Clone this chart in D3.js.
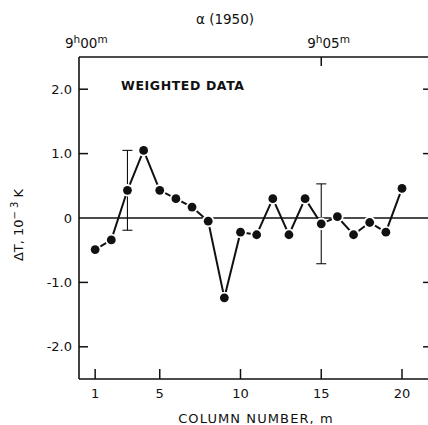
<!DOCTYPE html>
<html>
<head>
<meta charset="utf-8">
<script src="https://cdn.jsdelivr.net/npm/d3@7"></script>
<style>
  html, body { margin: 0; padding: 0; background: #fff; }
  svg { display: block; }
</style>
</head>
<body>
<svg id="chart"></svg>
<script>
// column number 1..20 and weighted delta T (10^-3 K)
const columns = [1, 2, 3, 4, 5, 6, 7, 8, 9, 10, 11, 12, 13, 14, 15, 16, 17, 18, 19, 20];
const deltaT = [-0.49, -0.34, 0.43, 1.05, 0.43, 0.30, 0.17, -0.05, -1.24, -0.22,
                -0.26, 0.30, -0.26, 0.30, -0.09, 0.02, -0.26, -0.07, -0.22, 0.46];
// error bars shown on two columns
const errCols = [3, 15];
const errHalf = [0.62, 0.62];
const xTicks = [1, 5, 10, 15, 20];
const yTicks = [-2, -1, 0, 1, 2];
const yTickLabels = ['-2.0', '-1.0', '0', '1.0', '2.0'];
// right ascension ticks on the top axis (column position, hours, minutes)
const raCols = [0, 15];
const raLabels = [['9', '00'], ['9', '05']];

const width = 428, height = 425;
const font = '"DejaVu Sans", "Liberation Sans", sans-serif';

const svg = d3.select('#chart')
  .attr('width', width)
  .attr('height', height)
  .style('font-family', font);

const x = d3.scaleLinear().domain([0, 21.8]).range([79, 79 + 21.8 * 16.15]);
const y = d3.scaleLinear().domain([-2.5, 2.5]).range([379, 57]);

const ink = '#111';

// frame: left, bottom, top, right (right one sits just past the edge)
const frame = svg.append('g').attr('stroke', ink).attr('stroke-width', 1.6).attr('fill', 'none');
frame.append('line').attr('x1', x(0)).attr('x2', x(0)).attr('y1', y(2.5)).attr('y2', y(-2.5));
frame.append('line').attr('x1', x(0)).attr('x2', x(21.8)).attr('y1', y(-2.5)).attr('y2', y(-2.5));
frame.append('line').attr('x1', x(0)).attr('x2', x(21.8)).attr('y1', y(2.5)).attr('y2', y(2.5));
frame.append('line').attr('x1', x(21.8)).attr('x2', x(21.8)).attr('y1', y(2.5)).attr('y2', y(-2.5));

// zero line across the plot
svg.append('line')
  .attr('x1', x(0)).attr('x2', x(21.8))
  .attr('y1', y(0)).attr('y2', y(0))
  .attr('stroke', ink).attr('stroke-width', 1.4);

// left ticks + labels
const yt = svg.append('g');
yt.selectAll('line.l').data(yTicks.filter(d => d !== 0)).enter().append('line')
  .attr('x1', x(0)).attr('x2', x(0) + 9)
  .attr('y1', d => y(d)).attr('y2', d => y(d))
  .attr('stroke', ink).attr('stroke-width', 1.5);
yt.selectAll('line.r').data(yTicks.filter(d => d !== 0)).enter().append('line')
  .attr('x1', x(21.8)).attr('x2', x(21.8) - 8)
  .attr('y1', d => y(d)).attr('y2', d => y(d))
  .attr('stroke', ink).attr('stroke-width', 1.5);
yt.selectAll('text').data(yTicks).enter().append('text')
  .attr('x', 72).attr('y', d => y(d))
  .attr('dy', '0.36em')
  .attr('text-anchor', 'end')
  .attr('font-size', 13)
  .attr('fill', ink)
  .text((d, i) => yTickLabels[i]);

// bottom ticks + labels
const xt = svg.append('g');
xt.selectAll('line').data(xTicks).enter().append('line')
  .attr('x1', d => x(d)).attr('x2', d => x(d))
  .attr('y1', y(-2.5)).attr('y2', y(-2.5) - 10)
  .attr('stroke', ink).attr('stroke-width', 1.5);
xt.selectAll('text').data(xTicks).enter().append('text')
  .attr('x', d => x(d)).attr('y', 398)
  .attr('text-anchor', 'middle')
  .attr('font-size', 13)
  .attr('fill', ink)
  .text(d => d);

// top RA ticks + labels
const tt = svg.append('g');
tt.selectAll('line').data(raCols.filter(d => d > 0)).enter().append('line')
  .attr('x1', d => x(d)).attr('x2', d => x(d))
  .attr('y1', y(2.5)).attr('y2', y(2.5) + 9)
  .attr('stroke', ink).attr('stroke-width', 1.5);
raCols.forEach((c, i) => {
  const t = tt.append('text')
    .attr('x', x(c) - 14).attr('y', 48)
    .attr('font-size', 13.5)
    .attr('fill', ink);
  t.append('tspan').text(raLabels[i][0]);
  t.append('tspan').attr('dy', -5).attr('font-size', 10.5).text('h');
  t.append('tspan').attr('dy', 5).text(raLabels[i][1]);
  t.append('tspan').attr('dy', -5).attr('font-size', 10.5).text('m');
});

svg.append('text')
  .attr('x', 225).attr('y', 24)
  .attr('text-anchor', 'middle')
  .attr('font-size', 13.5)
  .attr('fill', ink)
  .text('\u03B1 (1950)');

// axis titles
svg.append('text')
  .attr('x', 256).attr('y', 423)
  .attr('text-anchor', 'middle')
  .attr('font-size', 13)
  .attr('letter-spacing', 1.1)
  .attr('fill', ink)
  .text('COLUMN  NUMBER,  m');

const yl = svg.append('text')
  .attr('transform', 'translate(23,225) rotate(-90)')
  .attr('text-anchor', 'middle')
  .attr('font-size', 13)
  .attr('fill', ink);
yl.append('tspan').text('\u0394T, 10');
yl.append('tspan').attr('dy', -5).attr('font-size', 10).text('\u2212 3');
yl.append('tspan').attr('dy', 5).text(' K');

svg.append('text')
  .attr('x', 121).attr('y', 90)
  .attr('font-size', 12.5)
  .attr('font-weight', 'bold')
  .attr('letter-spacing', 0.6)
  .attr('fill', ink)
  .text('WEIGHTED  DATA');

// error bars
const eb = svg.append('g').attr('stroke', ink).attr('stroke-width', 1.1);
errCols.forEach((c, i) => {
  const v = deltaT[columns.indexOf(c)];
  const top = y(v + errHalf[i]), bot = y(v - errHalf[i]);
  eb.append('line').attr('x1', x(c)).attr('x2', x(c)).attr('y1', top).attr('y2', bot);
  eb.append('line').attr('x1', x(c) - 5).attr('x2', x(c) + 5).attr('y1', top).attr('y2', top);
  eb.append('line').attr('x1', x(c) - 5).attr('x2', x(c) + 5).attr('y1', bot).attr('y2', bot);
});

// data line
const pts = columns.map((c, i) => [c, deltaT[i]]);
svg.append('path')
  .datum(pts)
  .attr('fill', 'none')
  .attr('stroke', ink)
  .attr('stroke-width', 2)
  .attr('d', d3.line().x(d => x(d[0])).y(d => y(d[1])));

// white halo so the line stops short of each marker, then the marker
svg.selectAll('circle.halo').data(pts).enter().append('circle')
  .attr('class', 'halo')
  .attr('cx', d => x(d[0])).attr('cy', d => y(d[1]))
  .attr('r', 6.2)
  .attr('fill', '#fff');
svg.selectAll('circle.pt').data(pts).enter().append('circle')
  .attr('class', 'pt')
  .attr('cx', d => x(d[0])).attr('cy', d => y(d[1]))
  .attr('r', 4.4)
  .attr('fill', ink);
</script>
</body>
</html>
